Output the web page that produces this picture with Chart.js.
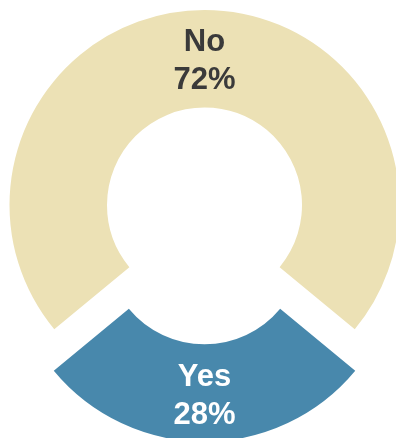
<!DOCTYPE html>
<html lang="en">
    <head>
        <meta charset="utf-8" />
        <title>Yes / No doughnut</title>
        <script src="https://cdn.jsdelivr.net/npm/chart.js@4.4.1/dist/chart.umd.min.js"></script>
        <style>
            html, body { margin: 0; padding: 0; background: #fff; }
            canvas { display: block; }
        </style>
    </head>
    <body>

        <canvas id="answers" width="396" height="438"></canvas>

        <script>
            var labels = ["No", "Yes"];
            var percents = [72, 28];
            var sliceColors = ["#ece1b5", "#4888ac"];
            var textColors = ["#3a3a3a", "#ffffff"];
            var explode = [0, 164];

            // puts "label\nvalue%" in the middle of each ring slice
            var sliceLabels = {
                id: "sliceLabels",
                afterDatasetsDraw: function(chart) {
                    var ctx = chart.ctx;
                    var meta = chart.getDatasetMeta(0);
                    ctx.save();
                    ctx.font = "bold 31px 'Liberation Sans', Arial, sans-serif";
                    ctx.textAlign = "center";
                    ctx.textBaseline = "middle";
                    meta.data.forEach(function(arc, i) {
                        var mid = (arc.startAngle + arc.endAngle) / 2;
                        // same shift the arc gets from its offset option
                        var off = (arc.options.offset || 0) / 4;
                        var shift = off * (2 - Math.sin(Math.min(Math.PI, arc.circumference)));
                        var r = (arc.innerRadius + arc.outerRadius) / 2 + shift;
                        var x = arc.x + Math.cos(mid) * r;
                        var y = arc.y + Math.sin(mid) * r + 3;
                        ctx.fillStyle = textColors[i];
                        ctx.fillText(labels[i], x, y - 19);
                        ctx.fillText(percents[i] + "%", x, y + 19);
                    });
                    ctx.restore();
                }
            };

            var ctx = document.getElementById("answers").getContext("2d");
            var answersChart = new Chart(ctx, {
                type: "doughnut",
                data: {
                    labels: labels,
                    datasets: [{
                        data: percents,
                        backgroundColor: sliceColors,
                        borderWidth: 0,
                        offset: explode,
                        hoverOffset: 0,
                        clip: false
                    }]
                },
                options: {
                    responsive: false,
                    animation: false,
                    rotation: 230.4,
                    radius: 195,
                    cutout: "50%",
                    layout: { padding: { left: 13, right: 0, top: 0, bottom: 28 } },
                    plugins: {
                        legend: { display: false },
                        tooltip: { enabled: false }
                    }
                },
                plugins: [sliceLabels]
            });
        </script>

    </body>
</html>
